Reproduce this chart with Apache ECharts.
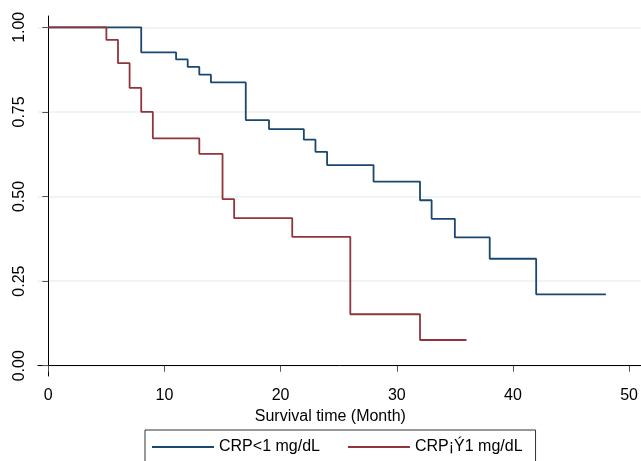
<!DOCTYPE html>
<html>
<head>
<meta charset="utf-8">
<script src="https://cdn.jsdelivr.net/npm/echarts@6/dist/echarts.min.js"></script>
<style>
  html, body { margin: 0; padding: 0; background: #fff; }
  #chart { width: 641px; height: 461px; }
</style>
</head>
<body>
<div id="chart"></div>
<script>
// Kaplan-Meier steps
var lowTime = [0, 8, 11, 12, 13, 14, 17, 19, 22, 23, 24, 28, 32, 33, 35, 38, 42, 48];
var lowSurv = [1, 0.926, 0.905, 0.883, 0.860, 0.837, 0.726, 0.699, 0.668, 0.632, 0.593, 0.544, 0.489, 0.434, 0.379, 0.316, 0.211, 0.211];

var highTime = [0, 5, 6, 7, 8, 9, 13, 15, 16, 21, 26, 32, 36];
var highSurv = [1, 0.963, 0.894, 0.821, 0.750, 0.672, 0.626, 0.492, 0.436, 0.381, 0.152, 0.076, 0.076];

var xTicks = [0, 10, 20, 30, 40, 50];
var yTicks = [0, 0.25, 0.5, 0.75, 1];

var seriesNames = ['CRP<1 mg/dL', 'CRP¡Ý1 mg/dL'];
var colors = ['#1a476f', '#90353b'];

function pairs(t, s) {
    var out = [];
    for (var i = 0; i < t.length; i++) out.push([t[i], s[i]]);
    return out;
}

var chart = echarts.init(document.getElementById('chart'));
var font = 'Liberation Sans, Arial, sans-serif';

chart.setOption({
    animation: false,
    color: colors,
    grid: { left: 38, right: 0, top: 16, bottom: 85 },
    legend: {
        data: seriesNames,
        left: 145,
        top: 430,
        icon: 'rect',
        itemWidth: 62,
        itemHeight: 2,
        itemGap: 28,
        padding: [9, 13, 9, 7],
        borderColor: '#333',
        borderWidth: 1,
        textStyle: { fontFamily: font, fontSize: 16, color: '#000' }
    },
    xAxis: {
        type: 'value',
        min: -0.886,
        max: 51.0,
        name: 'Survival time (Month)',
        nameLocation: 'middle',
        nameGap: 24,
        nameTextStyle: { fontFamily: font, fontSize: 16, color: '#000', padding: [0, 18, 0, 0] },
        axisLine: { show: true, lineStyle: { color: '#000', width: 1 } },
        axisTick: { show: true, length: 6, customValues: xTicks, lineStyle: { color: '#555' } },
        axisLabel: {
            customValues: xTicks,
            margin: 12,
            fontFamily: font, fontSize: 16, color: '#000'
        },
        splitLine: { show: false }
    },
    yAxis: {
        type: 'value',
        min: -0.0304,
        max: 1.0334,
        axisLine: { show: true, lineStyle: { color: '#000', width: 1 } },
        axisTick: { show: true, length: 6, customValues: yTicks, lineStyle: { color: '#555' } },
        axisLabel: {
            customValues: yTicks,
            rotate: 90,
            margin: 10,
            fontFamily: font, fontSize: 16, color: '#000',
            formatter: function (v) { return v.toFixed(2); }
        },
        splitLine: { show: true, lineStyle: { color: '#eaf2f3', width: 1.5 } }
    },
    series: [
        {
            name: seriesNames[0],
            type: 'line',
            step: 'end',
            symbol: 'none',
            lineStyle: { width: 1.8, color: colors[0] },
            data: pairs(lowTime, lowSurv)
        },
        {
            name: seriesNames[1],
            type: 'line',
            step: 'end',
            symbol: 'none',
            lineStyle: { width: 1.8, color: colors[1] },
            data: pairs(highTime, highSurv)
        }
    ]
});
</script>
</body>
</html>
